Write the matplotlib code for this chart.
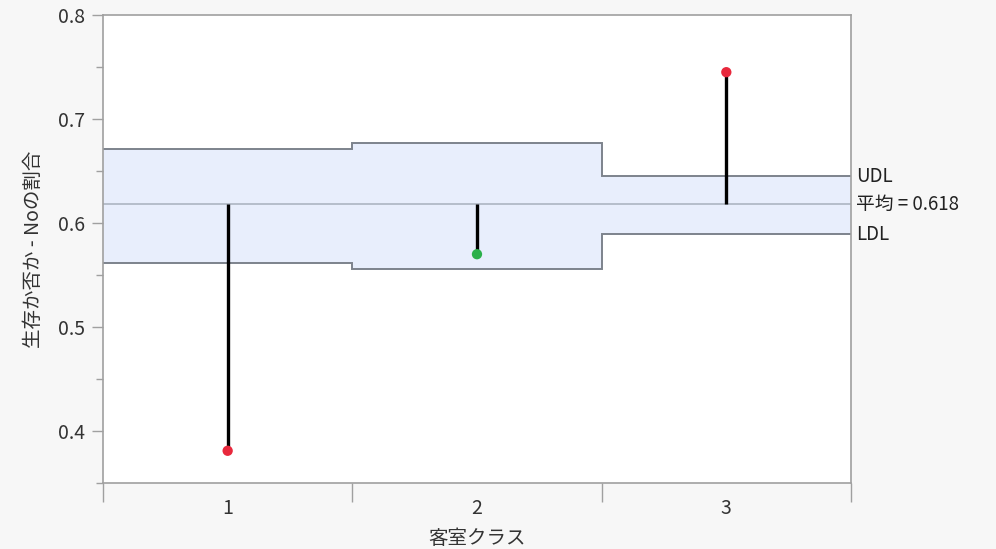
import numpy as np
import matplotlib
matplotlib.use("Agg")
from matplotlib import pyplot as plt
from matplotlib.ticker import MultipleLocator

plt.rcParams['font.family'] = ['Noto Sans CJK JP', 'DejaVu Sans']

classes = [1, 2, 3]
proportion_no = [0.381, 0.570, 0.745]
udl = [0.671, 0.677, 0.645]
ldl = [0.562, 0.556, 0.589]
overall_mean = 0.618

edges = np.arange(len(classes) + 1) + 0.5
point_colors = ['#e8283c' if (p > u or p < l) else '#2bb04a'
                for p, u, l in zip(proportion_no, udl, ldl)]

fig = plt.figure(figsize=(9.96, 5.49), dpi=100, facecolor='#f7f7f7')
ax = fig.add_axes([0.1034, 0.1202, 0.7510, 0.8525])
ax.set_facecolor('white')

# decision band
ax.stairs(udl, edges, baseline=ldl, fill=True, color='#e8eefc', zorder=1)
ax.stairs(udl, edges, baseline=None, color='#7d838c', lw=1.4, zorder=2)
ax.stairs(ldl, edges, baseline=None, color='#7d838c', lw=1.4, zorder=2)
ax.axhline(overall_mean, color='#a7b0bd', lw=1.1, zorder=2)

# deviations from the mean
ax.vlines(classes, overall_mean, proportion_no, color='black', lw=2.4, zorder=3)
ax.scatter(classes, proportion_no, s=55, c=point_colors, zorder=4, linewidths=0)

ax.set_xlim(0.5, 3.5)
ax.set_ylim(0.35, 0.8)

ax.yaxis.set_major_locator(MultipleLocator(0.1))
ax.yaxis.set_minor_locator(MultipleLocator(0.05))
ax.set_yticklabels([f'{v:.1f}' for v in ax.get_yticks()])
ax.tick_params(axis='y', which='major', length=8, width=1, color='#a0a0a0',
               labelsize=14, labelcolor='#333333', pad=5)
ax.tick_params(axis='y', which='minor', length=5, width=1, color='#a0a0a0')

# group boundaries carry the ticks, labels sit at the centres
ax.set_xticks(edges)
ax.set_xticklabels([''] * len(edges))
ax.set_xticks(classes, minor=True)
ax.set_xticklabels([str(c) for c in classes], minor=True)
ax.tick_params(axis='x', which='major', length=14, width=1, color='#a0a0a0')
ax.tick_params(axis='x', which='minor', length=0, labelsize=14,
               labelcolor='#333333', pad=11)

for s in ax.spines.values():
    s.set_color('#a0a0a0')
    s.set_linewidth(1.2)

ax.set_ylabel('生存か否か - Noの割合', fontsize=14, color='#333333', labelpad=10)
ax.set_xlabel('客室クラス', fontsize=14, color='#333333', labelpad=6)

lab_x = 3.5 + 0.02
ax.text(lab_x, udl[-1], 'UDL', fontsize=13.5, color='#222222', va='center', ha='left',
        clip_on=False)
ax.text(lab_x, overall_mean, f'平均 = {overall_mean:.3f}', fontsize=13.5, color='#222222',
        va='center', ha='left', clip_on=False)
ax.text(lab_x, ldl[-1], 'LDL', fontsize=13.5, color='#222222', va='center', ha='left',
        clip_on=False)

fig.savefig('out.png', dpi=100, facecolor=fig.get_facecolor())
